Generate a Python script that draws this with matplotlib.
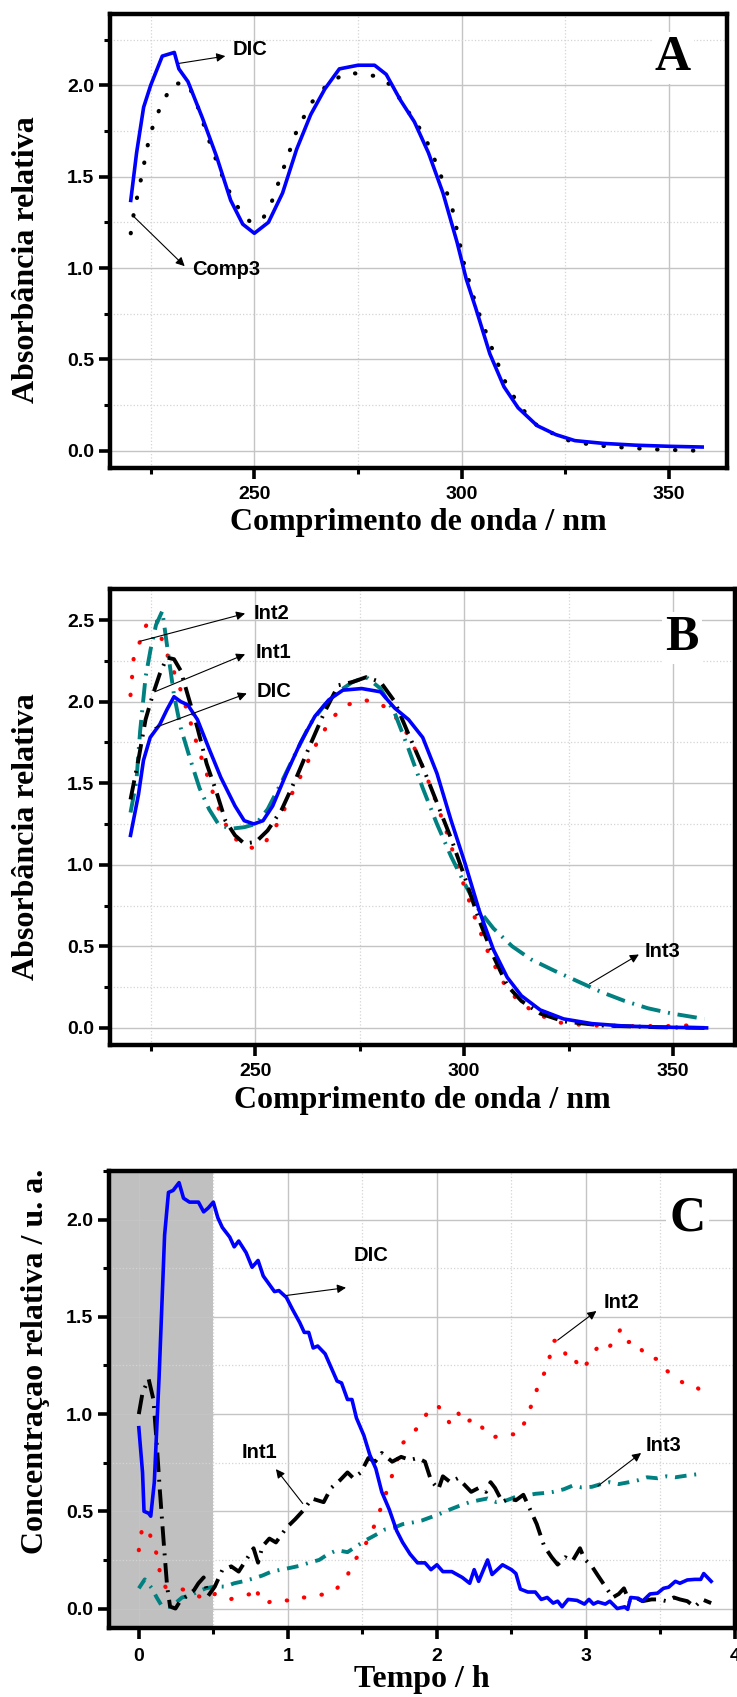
import matplotlib
matplotlib.use("Agg")
import matplotlib.pyplot as plt
from matplotlib.ticker import MultipleLocator

plt.rcParams['font.family'] = ['Liberation Sans', 'DejaVu Sans']
plt.rcParams['font.weight'] = 'bold'

# ---- Panel A: DIC vs Comp3 spectra ----
a_dic_x = [220.2, 221.6, 223.3, 225.0, 227.8, 230.7, 231.8, 234.0, 237.5, 240.9, 244.3, 247.2,
           250.0, 253.4, 256.8, 260.2, 263.6, 267.0, 270.5, 275.0, 279.0, 281.8, 285.2, 288.6,
           292.0, 295.5, 298.9, 301.1, 303.4, 306.8, 310.2, 313.6, 318.2, 322.7, 327.3, 334.1,
           342.0, 350.0, 358.0]
a_dic_y = [1.37, 1.63, 1.88, 2.00, 2.16, 2.18, 2.09, 2.02, 1.82, 1.61, 1.37, 1.24,
           1.19, 1.25, 1.41, 1.65, 1.84, 1.98, 2.09, 2.11, 2.11, 2.06, 1.92, 1.80,
           1.63, 1.41, 1.14, 0.94, 0.78, 0.53, 0.35, 0.235, 0.137, 0.088, 0.055, 0.04,
           0.03, 0.024, 0.02]
a_comp3_x = [220.2, 221.0, 222.7, 224.8, 227.8, 230.7, 234.0, 236.4, 239.8, 243.2, 246.6, 248.9,
             251.7, 254.0, 256.8, 260.2, 263.6, 268.2, 272.7, 276.1, 279.5, 283.0, 286.4, 290.9,
             294.3, 297.7, 300.6, 303.4, 306.8, 310.2, 313.6, 318.2, 325.0, 331.8, 339.8, 347.7,
             356.8]
a_comp3_y = [1.19, 1.31, 1.49, 1.73, 1.91, 2.01, 2.01, 1.88, 1.65, 1.45, 1.31, 1.255,
             1.255, 1.35, 1.53, 1.75, 1.90, 2.02, 2.07, 2.06, 2.05, 2.00, 1.88, 1.73,
             1.55, 1.33, 1.02, 0.80, 0.59, 0.39, 0.255, 0.137, 0.06, 0.03, 0.016, 0.006,
             0.0]

# ---- Panel B: DIC and intermediates spectra ----
b_dic_x = [220.2, 222.1, 223.3, 224.9, 227.2, 228.9, 230.6, 232.2, 233.9, 236.2, 239.0, 241.8,
           245.2, 247.4, 249.7, 251.9, 254.2, 257.5, 260.9, 264.3, 267.6, 271.0, 275.5, 280.0,
           283.4, 286.7, 290.1, 293.5, 296.9, 300.2, 303.6, 307.0, 310.3, 313.7, 318.2, 323.8,
           330.6, 338.5, 348.5, 358.0]
b_dic_y = [1.18, 1.43, 1.64, 1.78, 1.86, 1.95, 2.03, 2.00, 1.98, 1.89, 1.71, 1.535,
           1.36, 1.27, 1.25, 1.27, 1.36, 1.56, 1.75, 1.91, 2.01, 2.07, 2.08, 2.06,
           1.96, 1.89, 1.78, 1.56, 1.27, 1.01, 0.72, 0.48, 0.31, 0.197, 0.11, 0.055,
           0.026, 0.011, 0.004, 0.0]
b_int1_x = [220.2, 222.1, 223.8, 225.5, 227.2, 228.9, 230.6, 232.2, 233.9, 236.2, 238.4, 240.7,
            242.9, 245.2, 247.4, 250.2, 253.0, 256.4, 259.8, 263.1, 266.5, 269.9, 273.3, 276.6,
            280.0, 283.4, 286.7, 290.1, 293.5, 296.9, 300.2, 303.6, 307.0, 310.3, 313.7, 318.2,
            323.8, 332.8, 346.3, 357.5]
b_int1_y = [1.40, 1.645, 1.89, 2.04, 2.17, 2.27, 2.26, 2.19, 2.04, 1.84, 1.62, 1.45,
            1.27, 1.18, 1.13, 1.14, 1.21, 1.34, 1.53, 1.73, 1.93, 2.10, 2.12, 2.15,
            2.12, 2.00, 1.80, 1.60, 1.38, 1.16, 0.92, 0.66, 0.44, 0.26, 0.165, 0.088,
            0.04, 0.015, 0.004, 0.0]
b_int2_x = [220.2, 221.0, 222.5, 223.8, 225.2, 226.6, 227.8, 229.4, 231.7, 233.9, 236.2, 238.4,
            240.7, 242.9, 245.2, 248.0, 250.2, 252.5, 255.3, 258.7, 262.0, 265.4, 268.8, 272.1,
            275.5, 278.9, 282.2, 285.6, 289.0, 292.4, 295.7, 299.1, 302.5, 305.8, 309.2, 312.6,
            317.1, 322.7, 329.4, 340.7, 349.7, 356.4]
b_int2_y = [2.04, 2.28, 2.37, 2.46, 2.52, 2.49, 2.37, 2.26, 2.11, 1.93, 1.73, 1.56,
            1.38, 1.25, 1.16, 1.11, 1.10, 1.14, 1.25, 1.43, 1.60, 1.78, 1.91, 1.98,
            2.01, 2.00, 1.95, 1.84, 1.67, 1.45, 1.21, 0.94, 0.68, 0.46, 0.285, 0.175,
            0.088, 0.033, 0.015, 0.011, 0.011, 0.018]
b_int3_x = [220.2, 221.6, 222.5, 223.8, 225.0, 226.3, 227.8, 228.9, 230.6, 232.2, 234.5, 236.7,
            239.0, 241.2, 244.0, 247.4, 250.2, 253.0, 256.4, 259.8, 263.1, 266.5, 269.9, 273.3,
            276.6, 280.0, 283.4, 286.7, 290.1, 293.5, 296.9, 300.2, 303.6, 307.0, 311.5, 316.0,
            321.6, 327.2, 332.8, 338.4, 344.0, 349.7, 357.5]
b_int3_y = [1.32, 1.51, 1.82, 2.15, 2.32, 2.47, 2.555, 2.35, 2.04, 1.84, 1.645, 1.47,
            1.34, 1.25, 1.22, 1.23, 1.25, 1.34, 1.51, 1.69, 1.86, 1.975, 2.06, 2.12,
            2.15, 2.08, 1.93, 1.71, 1.47, 1.25, 1.05, 0.88, 0.72, 0.61, 0.50, 0.42,
            0.35, 0.285, 0.22, 0.165, 0.12, 0.088, 0.055]

# ---- Panel C: concentration profiles vs time ----
c_dic_t = [0.0, 0.025, 0.035, 0.066, 0.08, 0.104, 0.136, 0.173, 0.199, 0.23, 0.27, 0.30,
           0.34, 0.40, 0.435, 0.466, 0.50, 0.53, 0.56, 0.61, 0.64, 0.67, 0.72, 0.76,
           0.80, 0.835, 0.91, 0.94, 0.99, 1.03, 1.08, 1.11, 1.14, 1.17, 1.20, 1.25,
           1.29, 1.33, 1.36, 1.40, 1.43, 1.46, 1.51, 1.55, 1.59, 1.63, 1.68, 1.73,
           1.77, 1.82, 1.87, 1.92, 1.96, 2.00, 2.04, 2.10, 2.17, 2.22, 2.25, 2.28,
           2.34, 2.37, 2.44, 2.50, 2.53, 2.56, 2.61, 2.66, 2.70, 2.74, 2.78, 2.81,
           2.84, 2.88, 2.94, 2.99, 3.02, 3.05, 3.08, 3.13, 3.16, 3.21, 3.26, 3.28,
           3.30, 3.35, 3.38, 3.43, 3.48, 3.52, 3.555, 3.60, 3.63, 3.68, 3.73, 3.77,
           3.79, 3.84]
c_dic = [0.93, 0.70, 0.50, 0.49, 0.475, 0.65, 1.19, 1.92, 2.14, 2.15, 2.19, 2.11,
         2.09, 2.09, 2.04, 2.06, 2.09, 2.01, 1.96, 1.91, 1.86, 1.89, 1.83, 1.755,
         1.79, 1.71, 1.63, 1.635, 1.60, 1.54, 1.47, 1.42, 1.42, 1.34, 1.35, 1.31,
         1.24, 1.17, 1.16, 1.075, 1.075, 0.98, 0.89, 0.79, 0.72, 0.60, 0.51, 0.40,
         0.34, 0.28, 0.235, 0.235, 0.20, 0.225, 0.19, 0.19, 0.16, 0.13, 0.20, 0.14,
         0.25, 0.175, 0.225, 0.20, 0.18, 0.10, 0.085, 0.085, 0.047, 0.057, 0.028, 0.038,
         0.009, 0.047, 0.042, 0.023, 0.047, 0.023, 0.034, 0.023, 0.038, 0.0, 0.009, -0.004,
         0.057, 0.053, 0.038, 0.075, 0.079, 0.104, 0.11, 0.14, 0.13, 0.147, 0.15, 0.15,
         0.18, 0.14]
c_int1_t = [0.0, 0.025, 0.066, 0.098, 0.12, 0.14, 0.167, 0.19, 0.21, 0.246, 0.277, 0.325,
            0.37, 0.40, 0.435, 0.466, 0.51, 0.56, 0.62, 0.67, 0.70, 0.77, 0.80, 0.83,
            0.876, 0.92, 0.99, 1.05, 1.11, 1.16, 1.24, 1.29, 1.35, 1.40, 1.44, 1.49,
            1.54, 1.585, 1.63, 1.70, 1.76, 1.82, 1.87, 1.92, 1.96, 2.01, 2.04, 2.09,
            2.14, 2.18, 2.23, 2.28, 2.33, 2.36, 2.39, 2.44, 2.48, 2.53, 2.58, 2.625,
            2.67, 2.72, 2.77, 2.81, 2.86, 2.91, 2.96, 2.99, 3.04, 3.08, 3.13, 3.18,
            3.22, 3.255, 3.29, 3.33, 3.38, 3.44, 3.49, 3.54, 3.59, 3.63, 3.68, 3.73,
            3.78, 3.84]
c_int1 = [1.00, 1.11, 1.18, 1.075, 0.85, 0.62, 0.34, 0.113, 0.01, 0.0, 0.038, 0.066,
          0.094, 0.13, 0.16, 0.066, 0.113, 0.198, 0.217, 0.19, 0.226, 0.31, 0.236, 0.32,
          0.36, 0.34, 0.415, 0.46, 0.51, 0.566, 0.547, 0.62, 0.66, 0.70, 0.67, 0.70,
          0.774, 0.755, 0.80, 0.755, 0.78, 0.764, 0.774, 0.755, 0.66, 0.613, 0.68, 0.65,
          0.67, 0.64, 0.60, 0.62, 0.60, 0.65, 0.62, 0.547, 0.566, 0.557, 0.585, 0.51,
          0.434, 0.32, 0.264, 0.226, 0.264, 0.245, 0.31, 0.255, 0.217, 0.17, 0.113, 0.057,
          0.075, 0.104, 0.038, 0.057, 0.038, 0.047, 0.047, 0.038, 0.057, 0.047, 0.038, 0.009,
          0.047, 0.028]
c_int2_t = [0.0, 0.01, 0.025, 0.066, 0.088, 0.12, 0.15, 0.18, 0.23, 0.28, 0.325, 0.37,
            0.42, 0.466, 0.51, 0.56, 0.61, 0.655, 0.70, 0.75, 0.78, 0.81, 0.845, 0.89,
            0.955, 1.02, 1.08, 1.14, 1.21, 1.27, 1.33, 1.40, 1.44, 1.49, 1.54, 1.585,
            1.63, 1.68, 1.73, 1.77, 1.82, 1.885, 1.93, 1.98, 2.01, 2.06, 2.09, 2.14,
            2.18, 2.25, 2.31, 2.37, 2.44, 2.50, 2.55, 2.59, 2.64, 2.69, 2.74, 2.78,
            2.81, 2.85, 2.89, 2.93, 2.97, 3.01, 3.05, 3.09, 3.14, 3.19, 3.23, 3.27,
            3.33, 3.41, 3.48, 3.52, 3.60, 3.67, 3.74, 3.81]
c_int2 = [0.30, 0.36, 0.42, 0.40, 0.35, 0.28, 0.15, 0.11, 0.11, 0.10, 0.094, 0.075,
          0.057, 0.047, 0.075, 0.057, 0.047, 0.057, 0.066, 0.075, 0.113, 0.057, 0.023, 0.038,
          0.047, 0.038, 0.057, 0.057, 0.07, 0.075, 0.104, 0.17, 0.245, 0.283, 0.36, 0.434,
          0.53, 0.64, 0.755, 0.85, 0.887, 0.943, 1.00, 1.045, 1.04, 0.98, 0.95, 1.01,
          0.95, 0.98, 0.925, 0.877, 0.896, 0.896, 0.896, 0.96, 1.057, 1.17, 1.236, 1.377,
          1.377, 1.33, 1.264, 1.274, 1.226, 1.264, 1.32, 1.35, 1.33, 1.377, 1.434, 1.368,
          1.377, 1.29, 1.283, 1.236, 1.19, 1.15, 1.14, 1.094]
c_int3_t = [0.0, 0.04, 0.088, 0.12, 0.15, 0.20, 0.246, 0.29, 0.34, 0.39, 0.45, 0.51,
            0.58, 0.64, 0.70, 0.77, 0.83, 0.89, 0.955, 1.02, 1.08, 1.14, 1.21, 1.27,
            1.33, 1.40, 1.46, 1.52, 1.585, 1.65, 1.71, 1.77, 1.84, 1.90, 1.96, 2.03,
            2.09, 2.15, 2.22, 2.28, 2.34, 2.40, 2.47, 2.53, 2.59, 2.66, 2.72, 2.78,
            2.85, 2.91, 2.97, 3.04, 3.10, 3.16, 3.22, 3.29, 3.35, 3.41, 3.48, 3.54,
            3.60, 3.67, 3.73, 3.79]
c_int3 = [0.104, 0.15, 0.104, 0.057, 0.019, 0.009, 0.028, 0.057, 0.066, 0.085, 0.104, 0.113,
          0.113, 0.13, 0.14, 0.155, 0.17, 0.19, 0.20, 0.21, 0.22, 0.235, 0.25, 0.28,
          0.30, 0.29, 0.32, 0.35, 0.377, 0.406, 0.415, 0.434, 0.443, 0.453, 0.47, 0.49,
          0.51, 0.528, 0.547, 0.557, 0.566, 0.547, 0.557, 0.575, 0.58, 0.59, 0.594, 0.60,
          0.613, 0.632, 0.623, 0.626, 0.64, 0.65, 0.64, 0.65, 0.66, 0.675, 0.67, 0.68,
          0.675, 0.683, 0.689, 0.694]

BLUE = '#0000ff'
RED = '#ff0000'
TEAL = '#008080'
DOT = (0, (0.1, 4.2))
DASHDOT_LONG = (0, (5, 2, 0.5, 2))
DASHDOT_SHORT = (0, (3, 2, 0.5, 2))

serif = dict(family=['Liberation Serif', 'DejaVu Serif'], fontweight='bold')


def style_axes(ax, xmajor, xminor, ymajor, yminor, pad):
    ax.xaxis.set_major_locator(MultipleLocator(xmajor))
    ax.xaxis.set_minor_locator(MultipleLocator(xminor))
    ax.yaxis.set_major_locator(MultipleLocator(ymajor))
    ax.yaxis.set_minor_locator(MultipleLocator(yminor))
    ax.grid(which='major', color='#c4c4c4', lw=1.0, ls='-')
    ax.grid(which='minor', color='#d4d4d4', lw=0.9, ls=':')
    ax.set_axisbelow(True)
    for s in ax.spines.values():
        s.set_linewidth(3.2)
    ax.tick_params(which='major', direction='out', length=8, width=2.6,
                   labelsize=14, pad=pad)
    ax.tick_params(which='minor', direction='out', length=4.5, width=2.2)
    ax.tick_params(axis='y', pad=3.5)
    ax.tick_params(axis='y', which='minor', pad=3.5)


def arrow(ax, label, tail, head, pos):
    ax.annotate('', xy=head, xytext=tail,
                arrowprops=dict(arrowstyle='-|>', color='black', lw=0.8,
                                mutation_scale=13, shrinkA=0, shrinkB=0))
    ax.text(pos[0], pos[1], label, fontsize=14.5, fontweight='bold',
            ha='center', va='center')


def panel_letter(ax, letter, x, y):
    ax.text(x, y, letter, transform=ax.transAxes, fontsize=36, ha='center',
            va='center', zorder=5,
            bbox=dict(facecolor='white', edgecolor='none', pad=2), **serif)


fig = plt.figure(figsize=(7.37, 16.97), dpi=100)
axA = fig.add_axes([0.1493, 0.7242, 0.8372, 0.2675])
axB = fig.add_axes([0.1493, 0.3842, 0.8480, 0.2687])
axC = fig.add_axes([0.1479, 0.04066, 0.8494, 0.2693])

# Panel A
axA.plot(a_comp3_x, a_comp3_y, color='black', lw=3.0, ls=DOT,
         dash_capstyle='round', zorder=2)
axA.plot(a_dic_x, a_dic_y, color=BLUE, lw=2.6, zorder=3)
axA.set_xlim(215.2, 364)
axA.set_ylim(-0.095, 2.39)
style_axes(axA, 50, 25, 0.5, 0.25, 5)
arrow(axA, 'DIC', (231.8, 2.12), (243.0, 2.16), (248.9, 2.196))
arrow(axA, 'Comp3', (221.0, 1.28), (233.2, 1.01), (243.2, 0.99))
panel_letter(axA, 'A', 0.912, 0.903)
axA.set_xlabel('Comprimento de onda / nm', fontsize=23, va='center', **serif)
axA.xaxis.set_label_coords(0.5, -0.121)
axA.set_ylabel('Absorbância relativa', fontsize=23, va='center', **serif)
axA.yaxis.set_label_coords(-0.136, 0.458)

# Panel B
axB.plot(b_int2_x, b_int2_y, color=RED, lw=3.0, ls=DOT,
         dash_capstyle='round', zorder=2)
axB.plot(b_int3_x, b_int3_y, color=TEAL, lw=2.8, ls=DASHDOT_LONG, zorder=2)
axB.plot(b_int1_x, b_int1_y, color='black', lw=2.8, ls=DASHDOT_LONG, zorder=2)
axB.plot(b_dic_x, b_dic_y, color=BLUE, lw=2.6, zorder=3)
axB.set_xlim(215.3, 364.8)
axB.set_ylim(-0.105, 2.69)
style_axes(axB, 50, 25, 0.5, 0.25, 5)
arrow(axB, 'Int2', (222.5, 2.37), (247.6, 2.54), (253.9, 2.54))
arrow(axB, 'Int1', (226.0, 2.06), (247.6, 2.29), (254.5, 2.30))
arrow(axB, 'DIC', (226.0, 1.84), (248.0, 2.05), (254.5, 2.06))
arrow(axB, 'Int3', (330.0, 0.27), (341.8, 0.45), (347.4, 0.47))
panel_letter(axB, 'B', 0.915, 0.8925)
axB.set_xlabel('Comprimento de onda / nm', fontsize=23, va='center', **serif)
axB.xaxis.set_label_coords(0.5, -0.121)
axB.set_ylabel('Absorbância relativa', fontsize=23, va='center', **serif)
axB.yaxis.set_label_coords(-0.134, 0.456)

# Panel C
axC.set_xlim(-0.2, 4.0)
axC.set_ylim(-0.1, 2.25)
axC.axvspan(-0.2, 0.5, color='#c0c0c0', lw=0, zorder=0.2)
axC.plot(c_int2_t, c_int2, color=RED, lw=3.0, ls=DOT,
         dash_capstyle='round', zorder=2)
axC.plot(c_int3_t, c_int3, color=TEAL, lw=2.8, ls=DASHDOT_SHORT, zorder=2)
axC.plot(c_int1_t, c_int1, color='black', lw=2.8, ls=DASHDOT_LONG, zorder=2)
axC.plot(c_dic_t, c_dic, color=BLUE, lw=2.6, zorder=3)
style_axes(axC, 1, 0.5, 0.5, 0.25, 6.5)
arrow(axC, 'DIC', (0.99, 1.61), (1.39, 1.65), (1.56, 1.815))
arrow(axC, 'Int2', (2.81, 1.38), (3.07, 1.53), (3.24, 1.575))
arrow(axC, 'Int1', (1.10, 0.54), (0.92, 0.717), (0.81, 0.80))
arrow(axC, 'Int3', (3.08, 0.63), (3.37, 0.80), (3.52, 0.84))
panel_letter(axC, 'C', 0.924, 0.895)
axC.set_xlabel('Tempo / h', fontsize=23, va='center', **serif)
axC.xaxis.set_label_coords(0.5, -0.112)
axC.set_ylabel('Concentraçao relativa / u. a.', fontsize=23, va='center', **serif)
axC.yaxis.set_label_coords(-0.118, 0.584)

plt.savefig('out.png', dpi=100)
plt.close()
